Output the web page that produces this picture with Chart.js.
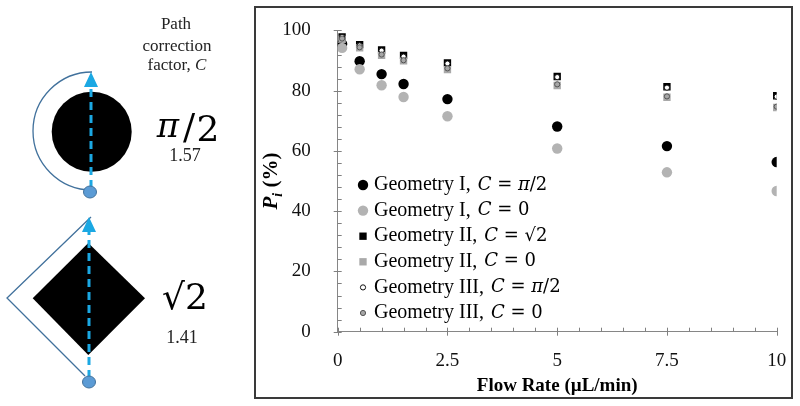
<!DOCTYPE html>
<html>
<head>
<meta charset="utf-8">
<script src="https://cdn.jsdelivr.net/npm/chart.js@4/dist/chart.umd.min.js"></script>
<style>
  html, body { margin: 0; padding: 0; background: #fff; }
  #wrap { width: 800px; height: 406px; }
</style>
</head>
<body>
<div id="wrap"><canvas id="chart" width="800" height="406"></canvas></div>
<script>
// Data
const flowRate = [0.1, 0.5, 1, 1.5, 2.5, 5, 7.5, 10];

const geoI_pi2 = [95.5, 89.8, 85.5, 82.2, 77.2, 68.1, 61.6, 56.3];
const geoI_zero = [94.2, 87.1, 81.8, 77.9, 71.5, 60.8, 52.9, 46.7];
const geoII_sqrt2 = [97.8, 95.3, 93.5, 91.7, 89.2, 84.7, 81.3, 78.3];
const geoII_zero = [97.0, 94.2, 91.7, 89.9, 87.0, 81.7, 77.8, 74.4];
const geoIII_pi2 = [97.8, 95.0, 93.3, 91.3, 89.0, 84.5, 81.0, 78.0];
const geoIII_zero = [97.3, 94.4, 92.0, 90.1, 87.4, 82.1, 78.1, 74.7];

const seriesNames = ['Geometry I, ', 'Geometry I, ', 'Geometry II, ', 'Geometry II, ', 'Geometry III, ', 'Geometry III, '];
const seriesC = ['π/2', '0', '√2', '0', 'π/2', '0'];

const xTicks = [0, 2.5, 5, 7.5, 10];
const yTicks = [0, 20, 40, 60, 80, 100];

const SERIF = '"Liberation Serif", "Times New Roman", serif';
const MATH = '"DejaVu Serif", serif';

const styles = [
    { pointStyle: 'circle', radius: 5.2, bg: '#000', border: '#000', bw: 0 },
    { pointStyle: 'circle', radius: 5.2, bg: '#b3b3b3', border: '#b3b3b3', bw: 0 },
    { pointStyle: 'rect', radius: 5.2, bg: '#000', border: '#000', bw: 0 },
    { pointStyle: 'rect', radius: 5.2, bg: '#a9a9a9', border: '#a9a9a9', bw: 0 },
    { pointStyle: 'circle', radius: 2.6, bg: '#fff', border: '#111', bw: 1 },
    { pointStyle: 'circle', radius: 2.6, bg: '#a6a6a6', border: '#555', bw: 1 }
];
const allSeries = [geoI_pi2, geoI_zero, geoII_sqrt2, geoII_zero, geoIII_pi2, geoIII_zero];

const datasets = allSeries.map((vals, i) => ({
    label: seriesNames[i] + 'C = ' + seriesC[i],
    data: vals.map((v, j) => ({ x: flowRate[j], y: v })),
    pointStyle: styles[i].pointStyle,
    pointRadius: styles[i].radius,
    pointBackgroundColor: styles[i].bg,
    pointBorderColor: styles[i].border,
    pointBorderWidth: styles[i].bw,
    showLine: false,
    order: 6 - i
}));

// Left-hand sketch: path correction factor illustrations
function drawSketch(ctx) {
    ctx.save();
    ctx.fillStyle = '#222';
    ctx.textAlign = 'center';
    ctx.textBaseline = 'middle';
    ctx.font = '17px ' + SERIF;
    ctx.fillText('Path', 176, 25);
    ctx.fillText('correction', 177, 47);
    const w1 = ctx.measureText('factor, ').width;
    ctx.font = 'italic 17px ' + SERIF;
    const w2 = ctx.measureText('C').width;
    ctx.textAlign = 'left';
    ctx.font = '17px ' + SERIF;
    const sx = 177 - (w1 + w2) / 2;
    ctx.fillText('factor, ', sx, 66);
    ctx.font = 'italic 17px ' + SERIF;
    ctx.fillText('C', sx + w1, 66);

    // circle geometry
    ctx.fillStyle = '#000';
    ctx.beginPath();
    ctx.arc(91.7, 131.7, 40, 0, Math.PI * 2);
    ctx.fill();
    ctx.strokeStyle = '#41719c';
    ctx.lineWidth = 1.3;
    ctx.beginPath();
    ctx.arc(92, 131, 59, -Math.PI / 2, Math.PI / 2, true);
    ctx.stroke();

    // diamond geometry
    ctx.fillStyle = '#000';
    ctx.beginPath();
    ctx.moveTo(88.3, 243);
    ctx.lineTo(145, 298.3);
    ctx.lineTo(88.3, 355);
    ctx.lineTo(32.7, 298.3);
    ctx.closePath();
    ctx.fill();
    ctx.beginPath();
    ctx.moveTo(91, 217);
    ctx.lineTo(7, 298);
    ctx.lineTo(85, 376);
    ctx.stroke();

    // dashed arrows
    [[91, 188, 72], [89, 378, 217]].forEach(([x, y0, tip]) => {
        ctx.strokeStyle = '#1ba8e3';
        ctx.lineWidth = 3;
        ctx.setLineDash([8, 5]);
        ctx.beginPath();
        ctx.moveTo(x, y0);
        ctx.lineTo(x, tip + 14);
        ctx.stroke();
        ctx.setLineDash([]);
        ctx.fillStyle = '#1ba8e3';
        ctx.beginPath();
        ctx.moveTo(x, tip);
        ctx.lineTo(x - 7, tip + 15);
        ctx.lineTo(x + 7, tip + 15);
        ctx.closePath();
        ctx.fill();
    });

    // start dots
    [[90, 192], [89, 382]].forEach(([x, y]) => {
        ctx.fillStyle = '#5b9bd5';
        ctx.strokeStyle = '#41719c';
        ctx.lineWidth = 1;
        ctx.beginPath();
        ctx.ellipse(x, y, 6.5, 6, 0, 0, Math.PI * 2);
        ctx.fill();
        ctx.stroke();
    });

    // factor values
    ctx.fillStyle = '#000';
    ctx.textAlign = 'center';
    ctx.font = 'italic 34px ' + MATH;
    ctx.fillText('π', 168, 128);
    ctx.font = '36px ' + MATH;
    ctx.fillText('/', 189, 130);
    ctx.fillText('2', 208, 132);
    ctx.fillText('√2', 185, 300);
    ctx.font = '18px ' + SERIF;
    ctx.fillStyle = '#222';
    ctx.fillText('1.57', 185, 156);
    ctx.fillText('1.41', 182, 338);
    ctx.restore();
}

function drawMathText(ctx, x, y, name, c) {
    ctx.font = '20px ' + SERIF;
    ctx.fillText(name, x, y);
    x += ctx.measureText(name).width + 2;
    ctx.font = 'italic 18px ' + MATH;
    ctx.fillText('C', x, y);
    x += ctx.measureText('C').width;
    ctx.font = '18px ' + MATH;
    ctx.fillText(' = ', x, y);
    x += ctx.measureText(' = ').width;
    if (c === 'π/2') {
        ctx.font = 'italic 18px ' + MATH;
        ctx.fillText('π', x, y);
        x += ctx.measureText('π').width;
        ctx.font = '18px ' + MATH;
        ctx.fillText('/2', x, y);
    } else {
        ctx.font = '18px ' + MATH;
        ctx.fillText(c, x, y);
    }
}

const decorPlugin = {
    id: 'decor',
    beforeDraw(chart) {
        const ctx = chart.ctx;
        ctx.save();
        ctx.fillStyle = '#fff';
        ctx.fillRect(0, 0, chart.width, chart.height);
        ctx.restore();
        drawSketch(ctx);
    },
    afterDraw(chart) {
        const ctx = chart.ctx;
        const xs = chart.scales.x, ys = chart.scales.y;
        const area = chart.chartArea;
        ctx.save();
        // outer frame of the plot panel
        ctx.strokeStyle = '#3a3a3a';
        ctx.lineWidth = 2;
        ctx.strokeRect(255, 7, 537, 391);

        // tick marks
        ctx.strokeStyle = '#808080';
        ctx.lineWidth = 1;
        ctx.beginPath();
        for (let v = 0; v <= 100; v += 4) {
            const py = Math.round(ys.getPixelForValue(v)) + 0.5;
            const major = yTicks.includes(v);
            ctx.moveTo(area.left - (major ? 4 : 0), py);
            ctx.lineTo(area.left + 4, py);
        }
        for (let v = 0; v <= 10; v += 0.5) {
            const px = Math.round(xs.getPixelForValue(v)) + 0.5;
            const major = xTicks.includes(v);
            ctx.moveTo(px, area.bottom + (major ? 4 : 0));
            ctx.lineTo(px, area.bottom - 4);
        }
        ctx.stroke();

        // y axis title: P_i (%)
        ctx.translate(272, (area.top + area.bottom) / 2);
        ctx.rotate(-Math.PI / 2);
        ctx.fillStyle = '#000';
        ctx.textBaseline = 'middle';
        ctx.font = 'bold italic 21px ' + SERIF;
        const wP = ctx.measureText('P').width;
        ctx.font = 'bold italic 14px ' + SERIF;
        const wi = ctx.measureText('i').width;
        ctx.font = 'bold 21px ' + SERIF;
        const wr = ctx.measureText(' (%)').width;
        let tx = -(wP + wi + wr) / 2;
        ctx.textAlign = 'left';
        ctx.font = 'bold italic 21px ' + SERIF;
        ctx.fillText('P', tx, 0);
        tx += wP;
        ctx.font = 'bold italic 14px ' + SERIF;
        ctx.fillText('i', tx, 6);
        tx += wi;
        ctx.font = 'bold 21px ' + SERIF;
        ctx.fillText(' (%)', tx, 0);
        ctx.restore();

        // legend inside plot area
        ctx.save();
        ctx.textBaseline = 'middle';
        ctx.textAlign = 'left';
        ctx.fillStyle = '#000';
        seriesNames.forEach((name, i) => {
            const y = 185 + 25.6 * i;
            const s = styles[i];
            const mx = 363;
            ctx.fillStyle = s.bg;
            ctx.strokeStyle = s.border;
            ctx.lineWidth = s.bw;
            ctx.beginPath();
            if (s.pointStyle === 'rect') {
                const h = s.radius * Math.SQRT1_2;
                ctx.rect(mx - h, y - h, 2 * h, 2 * h);
            } else {
                ctx.arc(mx, y, s.radius, 0, Math.PI * 2);
            }
            ctx.fill();
            if (s.bw) ctx.stroke();
            ctx.fillStyle = '#000';
            drawMathText(ctx, 374, y, name, seriesC[i]);
        });
        ctx.restore();
    }
};

new Chart(document.getElementById('chart'), {
    type: 'scatter',
    data: { datasets: datasets },
    plugins: [decorPlugin],
    options: {
        responsive: false,
        animation: false,
        layout: { padding: { left: 255, right: 23.3, top: 25.7, bottom: 0 } },
        plugins: {
            legend: { display: false },
            tooltip: { enabled: false }
        },
        scales: {
            x: {
                type: 'linear',
                min: 0,
                max: 10,
                afterFit: s => { s.height = 74.3; },
                afterBuildTicks: s => { s.ticks = xTicks.map(v => ({ value: v })); },
                grid: { display: false },
                border: { display: true, color: '#868686', width: 1 },
                ticks: {
                    padding: 10,
                    color: '#111',
                    font: { family: SERIF, size: 19 },
                    maxRotation: 0
                },
                title: {
                    display: true,
                    text: 'Flow Rate (µL/min)',
                    color: '#000',
                    font: { family: SERIF, size: 19, weight: 'bold' },
                    padding: { top: 0, bottom: 9 }
                }
            },
            y: {
                type: 'linear',
                min: 0,
                max: 100,
                afterFit: s => { s.width = 82.7; },
                afterBuildTicks: s => { s.ticks = yTicks.map(v => ({ value: v })); },
                grid: { display: false },
                border: { display: true, color: '#868686', width: 1 },
                ticks: {
                    padding: 19,
                    color: '#111',
                    font: { family: SERIF, size: 19 }
                }
            }
        }
    }
});
</script>
</body>
</html>
